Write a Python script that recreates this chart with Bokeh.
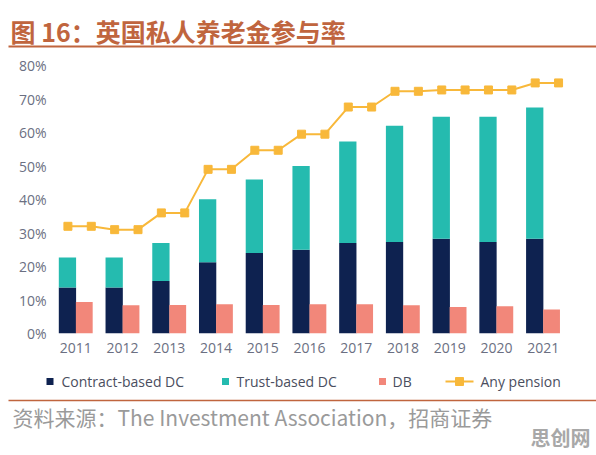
from bokeh.plotting import figure
from bokeh.layouts import column
from bokeh.models import Range1d, FixedTicker, PrintfTickFormatter, ColumnDataSource
from bokeh.transform import dodge
from bokeh.embed import file_html
from bokeh.resources import INLINE
from bokeh.core.properties import value

years = ["2011", "2012", "2013", "2014", "2015", "2016", "2017", "2018", "2019", "2020", "2021"]
contract_dc = [13.7, 13.7, 15.7, 21.3, 24.0, 25.0, 27.0, 27.3, 28.3, 27.3, 28.3]
trust_dc = [9.0, 9.0, 11.3, 18.8, 22.0, 25.0, 30.3, 34.7, 36.4, 37.4, 39.2]
db = [9.4, 8.4, 8.5, 8.7, 8.5, 8.7, 8.7, 8.4, 7.9, 8.1, 7.2]
any_pension = [32.0, 32.0, 31.0, 31.0, 36.0, 36.0, 49.0, 49.0, 54.7, 54.7, 59.5, 59.5,
               67.6, 67.6, 72.3, 72.3, 72.7, 72.7, 72.7, 72.7, 74.8, 74.8]
y_ticks = [0, 10, 20, 30, 40, 50, 60, 70, 80]
series_names = ["Contract-based DC", "Trust-based DC", "DB", "Any pension"]

title_text = "图 16：英国私人养老金参与率"
source_text = "资料来源：The Investment Association，招商证券"
watermark = "思创网"

C_CONTRACT = "#0e2250"
C_TRUST = "#25bbaf"
C_DB = "#f2877a"
C_LINE = "#f8b83a"
C_TITLE = "#c0653e"
W = 596


def blank(height, y0, y1):
    f = figure(width=W, height=height, output_backend="svg", toolbar_location=None,
               x_range=Range1d(0, W), y_range=Range1d(y1, y0), frame_align=False,
               min_border=0, min_border_left=0, min_border_right=0,
               min_border_top=0, min_border_bottom=0)
    f.axis.visible = False
    f.grid.visible = False
    f.outline_line_color = None
    return f


# ---- title strip (page y 0..50)
top = blank(50, 0, 50)
top.text(x=[10], y=[30], text=[title_text], text_font=value("Noto Sans CJK SC"),
         text_font_style="bold", text_font_size="25px", text_color=C_TITLE,
         text_baseline="middle", text_align="left")
top.line(x=[8, W], y=[46, 46], line_color=C_TITLE, line_width=2)

# ---- main chart (page y 50..363)
idx = list(range(len(years)))
src = ColumnDataSource(dict(x=idx, contract=contract_dc,
                            total=[c + t for c, t in zip(contract_dc, trust_dc)], db=db))
line_x = []
for i in idx:
    line_x += [i - 0.17, i + 0.33]
line_src = ColumnDataSource(dict(x=line_x, y=any_pension))

p = figure(width=W, height=313, output_backend="svg", toolbar_location=None,
           x_range=Range1d(-0.5, 10.5), y_range=Range1d(0, 80), frame_align=False,
           min_border_left=52, min_border_right=30, min_border_top=15, min_border_bottom=30)
p.outline_line_color = None
p.xgrid.visible = False
p.ygrid.visible = False

p.vbar(x=dodge("x", -0.18), top="contract", bottom=0, width=0.37, source=src,
       fill_color=C_CONTRACT, line_color=None)
p.vbar(x=dodge("x", -0.18), top="total", bottom="contract", width=0.37, source=src,
       fill_color=C_TRUST, line_color=None)
p.vbar(x=dodge("x", 0.18), top="db", bottom=0, width=0.36, source=src,
       fill_color=C_DB, line_color=None)
p.line(x="x", y="y", source=line_src, line_color=C_LINE, line_width=2)
p.scatter(x="x", y="y", source=line_src, marker="square", size=8,
          fill_color=C_LINE, line_color=C_LINE)

p.yaxis.ticker = FixedTicker(ticks=y_ticks)
p.yaxis.formatter = PrintfTickFormatter(format="%d%%")
p.xaxis.ticker = FixedTicker(ticks=idx)
p.xaxis.major_label_overrides = {i: y for i, y in zip(idx, years)}
for ax in (p.xaxis, p.yaxis):
    ax.axis_line_color = None
    ax.major_tick_line_color = None
    ax.minor_tick_line_color = None
    ax.major_tick_out = 0
    ax.major_tick_in = 0
    ax.major_label_text_font = "Open Sans"
    ax.major_label_text_font_size = "14px"
    ax.major_label_text_color = "#6b6f82"
p.xaxis.major_label_standoff = 9
p.yaxis.major_label_standoff = 6

# ---- legend + source strip (page y 363..455)
bot = blank(92, 363, 455)
ly = 381
bot.scatter(x=[49.5, 225, 382], y=[ly, ly, ly], marker="square", size=7,
            fill_color=[C_CONTRACT, C_TRUST, C_DB], line_color=None)
bot.line(x=[445, 473], y=[ly, ly], line_color=C_LINE, line_width=2)
bot.scatter(x=[459], y=[ly], marker="square", size=8, fill_color=C_LINE, line_color=C_LINE)
bot.text(x=[61, 236, 392, 480], y=[ly] * 4, text=series_names,
         text_font=value("Open Sans"), text_font_size="14px", text_color="#4a4e5e",
         text_baseline="middle", text_align="left")
bot.line(x=[8, W], y=[400, 400], line_color=C_TITLE, line_width=1.5)
bot.text(x=[12], y=[416], text=[source_text], text_font=value("Noto Sans CJK SC"),
         text_font_size="21px", text_color="#9a9a9a", text_baseline="middle",
         text_align="left")
bot.text(x=[530], y=[437], text=[watermark], text_font=value("Noto Sans CJK SC"),
         text_font_style="bold", text_font_size="20px", text_color="#a8a8a8",
         text_baseline="middle", text_align="left")

layout = column(top, p, bot, spacing=0)
open("out.html", "w").write(file_html(layout, INLINE))
